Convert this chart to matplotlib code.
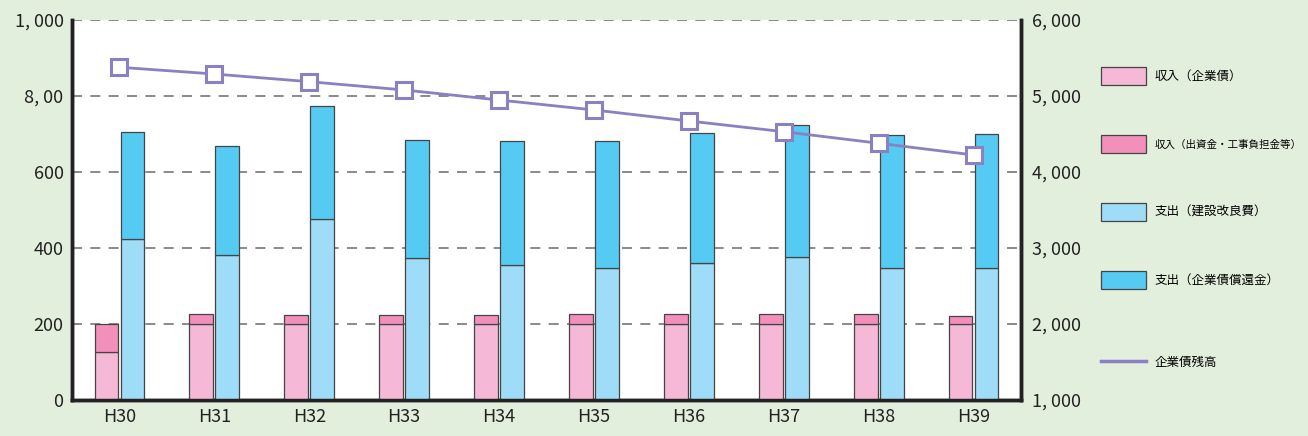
"""Bond revenue / expenditure chart with bond balance line."""

import matplotlib.pyplot as plt
import numpy as np
from matplotlib.patches import Patch
from matplotlib.lines import Line2D

plt.rcParams['font.family'] = ['Liberation Sans Narrow', 'Noto Sans CJK JP', 'DejaVu Sans']

years = ['H30', 'H31', 'H32', 'H33', 'H34', 'H35', 'H36', 'H37', 'H38', 'H39']
income_bond = [125, 200, 200, 200, 200, 200, 200, 200, 200, 200]
income_other = [76, 25, 24, 24, 24, 25, 25, 25, 25, 22]
spend_construction = [423, 382, 475, 373, 355, 347, 360, 375, 347, 348]
spend_repayment = [281, 286, 299, 310, 327, 335, 343, 349, 350, 352]
bond_balance = [5378, 5289, 5188, 5079, 4947, 4816, 4671, 4530, 4378, 4224]

left_ticks = [0, 200, 400, 600, 800, 1000]
left_labels = ['0', '200', '400', '600', '8, 00', '1, 000']
right_ticks = [1000, 2000, 3000, 4000, 5000, 6000]
right_labels = ['1, 000', '2, 000', '3, 000', '4, 000', '5, 000', '6, 000']

legend_labels = ['収入（企業債）', '収入（出資金・工事負担金等）',
                 '支出（建設改良費）', '支出（企業債償還金）', '企業債残高']

c_bond = '#F5B8D6'
c_other = '#F290BB'
c_constr = '#9FDCF7'
c_repay = '#55CBF4'
c_line = '#8A80C2'
bg = '#E3EFDD'

fig = plt.figure(figsize=(13.08, 4.36), dpi=100, facecolor=bg)
ax = fig.add_axes([0.055, 0.0826, 0.7256, 0.8716])
ax.set_facecolor('white')

x = np.arange(len(years))
w = 0.25
off = 0.137
edge = dict(edgecolor='#444444', linewidth=0.9)

ax.bar(x - off, income_bond, w, color=c_bond, **edge, zorder=3)
ax.bar(x - off, income_other, w, bottom=income_bond, color=c_other, **edge, zorder=3)
ax.bar(x + off, spend_construction, w, color=c_constr, **edge, zorder=3)
ax.bar(x + off, spend_repayment, w, bottom=spend_construction, color=c_repay, **edge, zorder=3)

ax.set_xlim(-0.5, len(years) - 0.5)
ax.set_ylim(0, 1000)
ax.set_xticks(x)
ax.set_xticklabels(years, fontsize=13)
ax.set_yticks(left_ticks)
ax.set_yticklabels(left_labels, fontsize=13)
ax.tick_params(length=0, pad=6, colors='#222222')
ax.yaxis.grid(True, linestyle=(0, (6, 5)), color='#777777', linewidth=1.2, zorder=0)
ax.set_axisbelow(True)
for side in ['left', 'bottom', 'right']:
    ax.spines[side].set_linewidth(2.5)
    ax.spines[side].set_color('#222222')
ax.spines['top'].set_visible(False)

ax2 = ax.twinx()
ax2.set_ylim(1000, 6000)
ax2.set_yticks(right_ticks)
ax2.set_yticklabels(right_labels, fontsize=13)
ax2.tick_params(length=0, pad=8, colors='#222222')
ax2.plot(x, bond_balance, color=c_line, linewidth=2, marker='s', markersize=11,
         markerfacecolor='white', markeredgecolor=c_line, markeredgewidth=2.2, zorder=5)
for side in ['left', 'bottom', 'right']:
    ax2.spines[side].set_linewidth(2.5)
    ax2.spines[side].set_color('#222222')
ax2.spines['top'].set_visible(False)

# legend on the right: four bar entries, then the line entry further down
cjk = ['Noto Sans CJK JP', 'DejaVu Sans']
handles = [Patch(facecolor=c, edgecolor='#444444', linewidth=0.9)
           for c in [c_bond, c_other, c_constr, c_repay]]
leg1 = fig.legend(handles, legend_labels[:4], loc='upper left',
                  bbox_to_anchor=(0.833, 0.872), frameon=False,
                  handlelength=3.6, handleheight=1.85, labelspacing=3.98,
                  handletextpad=0.7, prop={'family': cjk, 'size': 9})
leg1.get_texts()[1].set_fontsize(7.6)
leg2 = fig.legend([Line2D([0], [0], color=c_line, linewidth=2.5)], legend_labels[4:],
                  loc='upper left', bbox_to_anchor=(0.833, 0.21), frameon=False,
                  handlelength=3.6, handletextpad=0.7, prop={'family': cjk, 'size': 9})

plt.savefig('out.png', dpi=100, facecolor=bg)
